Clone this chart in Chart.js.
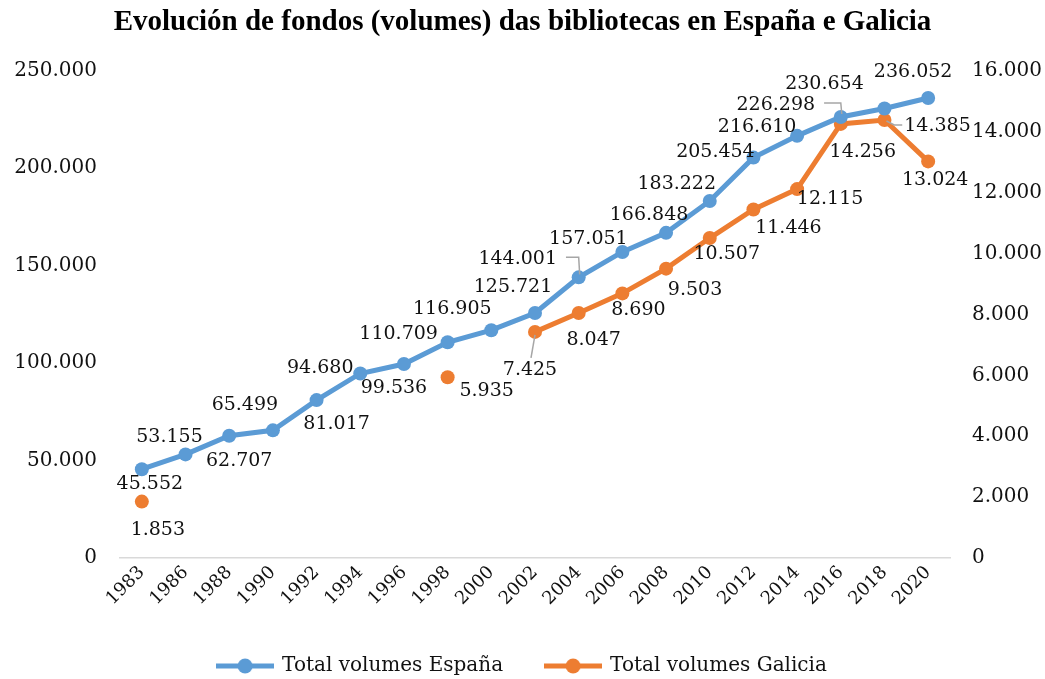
<!DOCTYPE html>
<html>
<head>
<meta charset="utf-8">
<title>Evolución de fondos</title>
<script src="https://cdn.jsdelivr.net/npm/chart.js"></script>
<style>
  html, body { margin: 0; padding: 0; background: #fff; }
  #wrap { width: 1045px; height: 679px; position: relative; }
</style>
</head>
<body>
<div id="wrap"><canvas id="chart"></canvas></div>
<script>
// anos e volumes
const years = ['1983', '1986', '1988', '1990', '1992', '1994', '1996', '1998', '2000', '2002',
               '2004', '2006', '2008', '2010', '2012', '2014', '2016', '2018', '2020'];
const volumesEspana = [45552, 53155, 62707, 65499, 81017, 94680, 99536, 110709, 116905, 125721,
                       144001, 157051, 166848, 183222, 205454, 216610, 226298, 230654, 236052];
const volumesGalicia = [1853, null, null, null, null, null, null, 5935, null, 7425,
                        8047, 8690, 9503, 10507, 11446, 12115, 14256, 14385, 13024];

// eixos
const leftMax = 250000, leftStep = 50000;
const rightMax = 16000, rightStep = 2000;

// posición das etiquetas respecto ao punto: [dx, dy, liña guía]
const labelPosEspana = [
  [8, 14], [-16, -18], [10, 24], [-28, -26], [20, 23], [-40, -6], [-10, 23], [-49, -9],
  [-39, -22], [-22, -27], [-61, -19, 'elbow'], [-34, -14], [-17, -19], [-33, -18], [-38, -7],
  [-40, -10], [-65, -13, 'elbow'], [-60, -25], [-15, -27]
];
const labelPosGalicia = [
  [16, 27], null, null, null, null, null, null, [39, 13], null, [-5, 37, 'below'],
  [15, 26], [16, 16], [29, 20], [17, 15], [35, 18], [33, 9], [22, 27], [53, 5, 'left'], [7, 18]
];

const blue = '#5b9bd5';
const orange = '#ed7d31';
const textColor = '#111';
const serif = '"DejaVu Serif", "Liberation Serif", serif';

function fmt(v) {
  return String(v).replace(/\B(?=(\d{3})+(?!\d))/g, '.');
}

// marca da lenda: liña con círculo
function legendMark(color) {
  const c = document.createElement('canvas');
  c.width = 58; c.height = 18;
  const g = c.getContext('2d');
  g.strokeStyle = color; g.lineWidth = 5;
  g.beginPath(); g.moveTo(0, 9); g.lineTo(58, 9); g.stroke();
  g.fillStyle = color;
  g.beginPath(); g.arc(29, 9, 7.5, 0, Math.PI * 2); g.fill();
  return c;
}

const valueLabels = {
  id: 'valueLabels',
  afterDatasetsDraw(chart) {
    const ctx = chart.ctx;
    ctx.save();
    ctx.font = '19px ' + serif;
    ctx.textAlign = 'center';
    ctx.textBaseline = 'middle';
    chart.data.datasets.forEach((ds, di) => {
      const meta = chart.getDatasetMeta(di);
      const pos = ds.labelPos;
      meta.data.forEach((pt, i) => {
        const v = ds.data[i];
        if (v == null || !pos[i]) return;
        const [dx, dy, guide] = pos[i];
        const x = pt.x + dx, y = pt.y + dy;
        const text = fmt(v);
        const w = ctx.measureText(text).width;
        if (guide) {
          ctx.strokeStyle = '#a6a6a6';
          ctx.lineWidth = 1.5;
          ctx.beginPath();
          if (guide === 'elbow') {
            ctx.moveTo(x + w / 2 + 9, y - 1);
            ctx.lineTo(pt.x, y - 1);
            ctx.lineTo(pt.x + 1, pt.y - 3);
          } else if (guide === 'below') {
            ctx.moveTo(x + 1, y - 11);
            ctx.lineTo(pt.x, pt.y + 3);
          } else if (guide === 'left') {
            ctx.moveTo(x - w / 2 - 2, y);
            ctx.lineTo(x - w / 2 - 10, y);
            ctx.lineTo(pt.x + 2, pt.y + 1);
          }
          ctx.stroke();
        }
        ctx.fillStyle = textColor;
        ctx.fillText(text, x, y + 1);
      });
    });
    ctx.restore();
  }
};

new Chart(document.getElementById('chart'), {
  type: 'line',
  data: {
    labels: years,
    datasets: [
      {
        label: 'Total volumes España',
        data: volumesEspana,
        labelPos: labelPosEspana,
        yAxisID: 'y',
        borderColor: blue,
        backgroundColor: blue,
        borderWidth: 5,
        pointRadius: 7,
        pointHoverRadius: 7,
        pointBorderWidth: 0,
        tension: 0,
        legendMark: legendMark(blue)
      },
      {
        label: 'Total volumes Galicia',
        data: volumesGalicia,
        labelPos: labelPosGalicia,
        yAxisID: 'y1',
        borderColor: orange,
        backgroundColor: orange,
        borderWidth: 5,
        pointRadius: 7,
        pointHoverRadius: 7,
        pointBorderWidth: 0,
        spanGaps: false,
        tension: 0,
        legendMark: legendMark(orange)
      }
    ]
  },
  options: {
    responsive: true,
    maintainAspectRatio: false,
    animation: false,
    layout: { padding: { left: 0, right: 0, top: 0, bottom: -7 } },
    plugins: {
      title: {
        display: true,
        text: 'Evolución de fondos (volumes) das bibliotecas en España e Galicia',
        color: '#000',
        font: { family: '"Liberation Serif", serif', size: 29, weight: 'bold' },
        padding: { top: 5, bottom: 31 }
      },
      legend: {
        position: 'bottom',
        labels: {
          color: textColor,
          font: { family: serif, size: 20 },
          usePointStyle: true,
          pointStyleWidth: 54,
          padding: 43,
          generateLabels(chart) {
            return chart.data.datasets.map((ds, i) => ({
              text: ds.label,
              pointStyle: ds.legendMark,
              fillStyle: ds.borderColor,
              strokeStyle: ds.borderColor,
              fontColor: textColor,
              lineWidth: 0,
              hidden: false,
              datasetIndex: i
            }));
          }
        }
      },
      tooltip: { enabled: false }
    },
    scales: {
      x: {
        offset: true,
        grid: { display: false, drawTicks: false },
        border: { display: true, color: '#d9d9d9', width: 1.5 },
        ticks: {
          color: textColor,
          font: { family: serif, size: 18 },
          minRotation: 45,
          maxRotation: 45,
          autoSkip: false,
          padding: 4
        },
        afterFit(scale) { scale.height = 55; }
      },
      y: {
        position: 'left',
        min: 0,
        max: leftMax,
        grid: { display: false, drawTicks: false },
        border: { display: false },
        ticks: {
          stepSize: leftStep,
          color: textColor,
          font: { family: serif, size: 20 },
          padding: 23,
          callback: v => fmt(v)
        },
        afterFit(scale) { scale.width = 120; }
      },
      y1: {
        position: 'right',
        min: 0,
        max: rightMax,
        grid: { display: false, drawTicks: false },
        border: { display: false },
        ticks: {
          stepSize: rightStep,
          color: textColor,
          font: { family: serif, size: 20 },
          padding: 22,
          callback: v => fmt(v)
        },
        afterFit(scale) { scale.width = 95; }
      }
    }
  },
  plugins: [valueLabels]
});
</script>
</body>
</html>
